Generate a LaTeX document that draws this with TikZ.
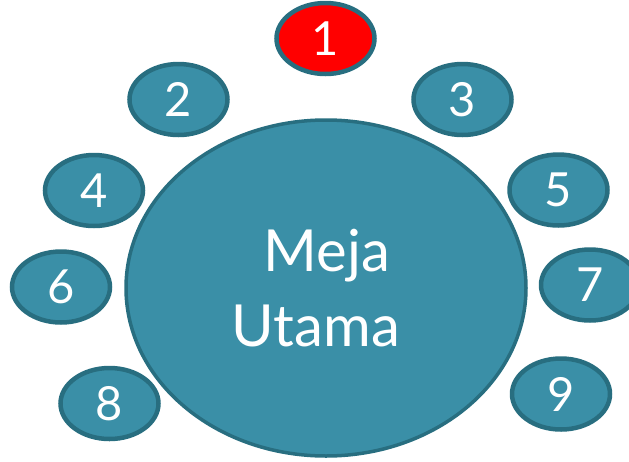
\documentclass[tikz,border=0pt]{standalone}
\usepackage{fontspec}
\setmainfont{Lato}
\usetikzlibrary{shapes.geometric}
\definecolor{tablefill}{HTML}{3A8FA7}
\definecolor{tableline}{HTML}{286E80}
\definecolor{chairone}{HTML}{FF0000}
\tikzset{
	seat/.style={ellipse, draw=tableline, fill=tablefill, line width=4.5pt,
		minimum width=98pt, minimum height=71pt, inner sep=0pt,
		text=white, font=\fontsize{47}{47}\selectfont},
	maintable/.style={ellipse, draw=tableline, fill=tablefill, line width=3.5pt,
		minimum width=400pt, minimum height=336pt, inner sep=0pt,
		text=white, align=center, font=\fontsize{58}{75}\selectfont}
}
\begin{document}
\begin{tikzpicture}[x=1pt, y=-1pt]
	\useasboundingbox (0,0) rectangle (629,461);
	%table
	\node[maintable] (meja) at (326,288) {\hspace*{2pt}Meja\\Utama\hspace*{20pt}};
	%chairs
	\node[seat, fill=chairone] (seat1) at (325.5,38.5) {1};
	\foreach \n/\px/\py in {
		2/178.5/99.5,
		3/462.5/99.5,
		4/94/190.5,
		5/558.5/190,
		6/61/287,
		7/590/285,
		8/109.5/403.5,
		9/561/394}
	\node[seat] (seat\n) at (\px,\py) {\n};
\end{tikzpicture}
\end{document}
